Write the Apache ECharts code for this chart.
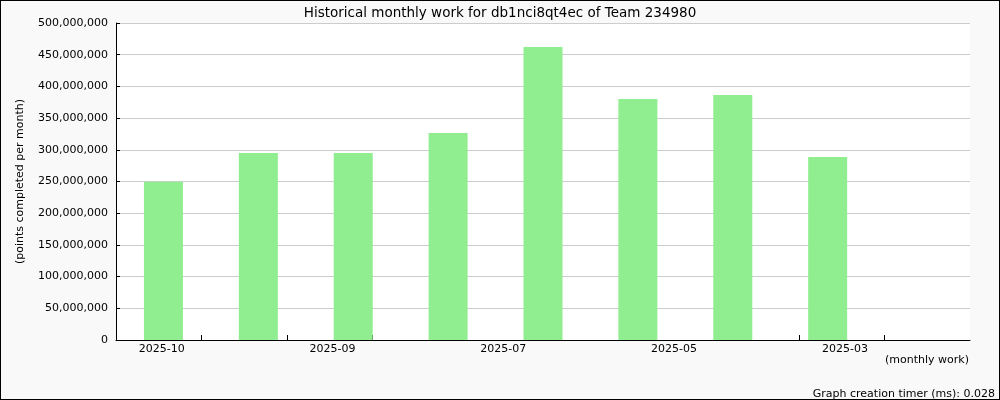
<!DOCTYPE html>
<html>
<head>
<meta charset="utf-8">
<script src="https://cdn.jsdelivr.net/npm/echarts@6/dist/echarts.min.js"></script>
<style>
html,body{margin:0;padding:0;background:#f9f9f9;}
#c{width:1000px;height:400px;box-sizing:border-box;border:1px solid #000;}
</style>
</head>
<body>
<div id="c"></div>
<script>
var months = ['2025-10','2025-09','2025-08','2025-07','2025-06','2025-05','2025-04','2025-03',''];
var work = [249700000, 295000000, 295000000, 326500000, 462100000, 380100000, 386400000, 288600000, null];
var tickLabels = ['2025-10','2025-09','2025-07','2025-05','2025-03'];
var tickLabelPos = [0.5, 2.5, 4.5, 6.5, 8.5];
var tickPos = [1,2,3,4,5,6,7,8,9];

var font = 'DejaVu Sans';
var chart = echarts.init(document.getElementById('c'), null, {renderer:'canvas'});
chart.setOption({
  backgroundColor: '#f9f9f9',
  animation: false,
  title: {
    text: 'Historical monthly work for db1nci8qt4ec of Team 234980',
    left: 'center', top: 0,
    textStyle: {fontFamily: font, fontSize: 13.5, fontWeight: 'normal', color: '#000'}
  },
  graphic: [
    {type:'text', right: 30, top: 354, style:{text:'(monthly work)', font:'11px DejaVu Sans', fill:'#000', textAlign:'right'}},
    {type:'text', right: 4, top: 388, style:{text:'Graph creation timer (ms): 0.028', font:'11px DejaVu Sans', fill:'#000', textAlign:'right'}}
  ],
  grid: {left: 115, right: 29, top: 22, bottom: 59, show: true, backgroundColor: '#fff', borderWidth: 0, containLabel: false},
  xAxis: [
    {
      type: 'category', data: months, position: 'bottom',
      axisLine: {show: false}, axisTick: {show: false}, axisLabel: {show: false}, splitLine: {show: false}
    },
    {
      type: 'value', min: 0, max: 10, interval: 1, position: 'bottom',
      axisLine: {show: true, onZero: false, lineStyle: {color: '#000', width: 1}},
      axisTick: {show: true, inside: true, length: 5, customValues: tickPos, lineStyle: {color: '#000'}},
      axisLabel: {show: true, customValues: tickLabelPos, margin: 4, padding: [0,0,0,6],
        fontFamily: font, fontSize: 11, color: '#000',
        formatter: function(v){ var i = tickLabelPos.indexOf(v); return i >= 0 ? tickLabels[i] : ''; }},
      splitLine: {show: false}
    }
  ],
  yAxis: {
    type: 'value', min: 0, max: 500000000, interval: 50000000,
    name: '(points completed per month)', nameLocation: 'middle', nameGap: 90, nameRotate: 90,
    nameTextStyle: {fontFamily: font, fontSize: 11, color: '#000'},
    axisLine: {show: true, lineStyle: {color: '#000'}},
    axisTick: {show: true, inside: true, length: 4, lineStyle: {color: '#000'}},
    axisLabel: {fontFamily: font, fontSize: 11, color: '#000', margin: 8,
      formatter: function(v){ return v.toString().replace(/\B(?=(\d{3})+(?!\d))/g, ','); }},
    splitLine: {show: true, lineStyle: {color: '#cccccc', width: 1}}
  },
  series: [{
    type: 'bar', xAxisIndex: 0, data: work, barWidth: 39,
    itemStyle: {color: '#90ee90'}
  }]
});
</script>
</body>
</html>
